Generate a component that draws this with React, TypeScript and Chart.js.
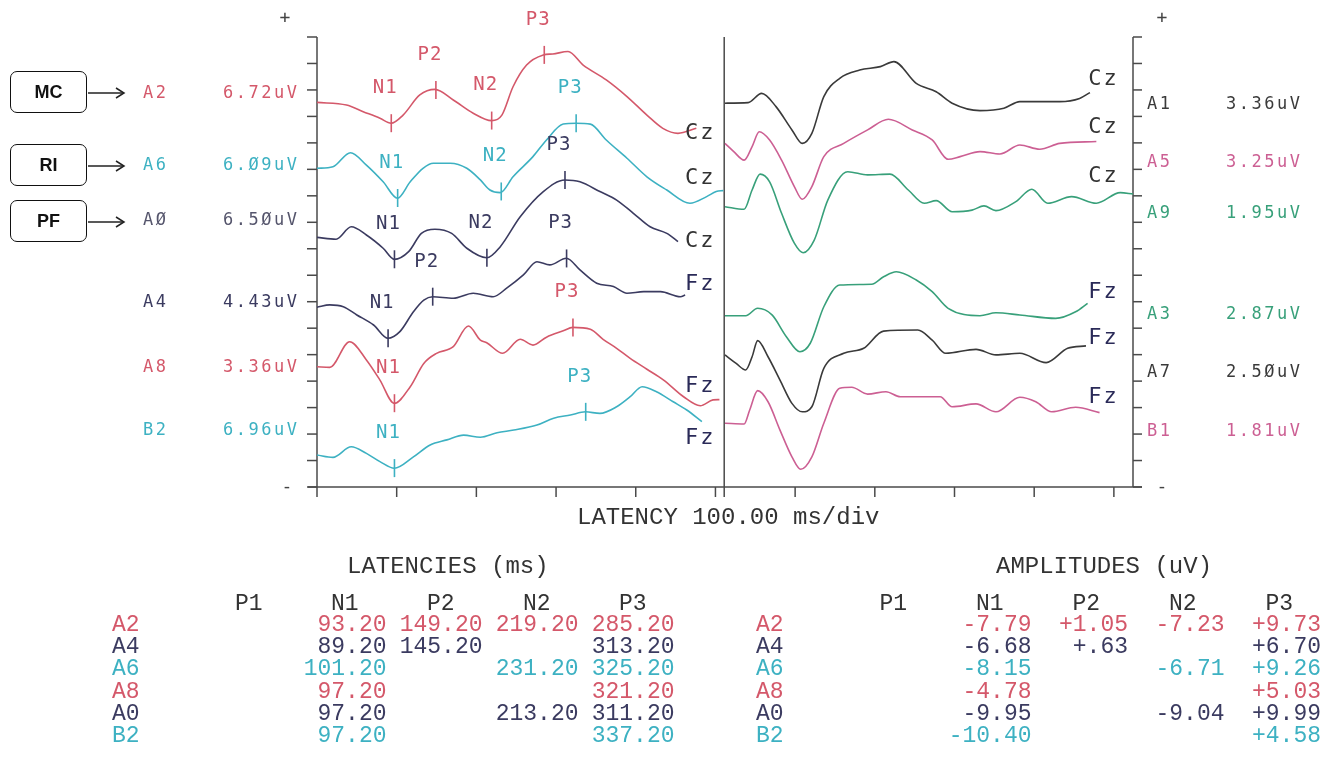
import React, { useEffect, useRef } from "react";
import { Chart, registerables } from "chart.js";

Chart.register(...registerables);

const W = 1327;
const H = 765;

// ---- axes (latency in ms, amplitude in grid divisions) ----
const X_MAX_MS = 1024;
const Y_DIVISIONS = 17;
const X_TICK_STEP_MS = 100;
const PANEL_DIVIDER_MS = 511;

// ---- left panel traces [ms, divisions] ----
const traceA2 = [[0,14.53],[37,14.43],[58,14.18],[79,13.93],[93,13.74],[108,14.05],[129,14.81],[148,15.02],[171,14.62],[196,14.12],[219,13.84],[232,14.05],[246,15.12],[263,15.94],[284,16.32],[296,16.36],[315,16.45],[334,15.94],[363,15.38],[389,14.75],[414,14.05],[434,13.55],[453,13.36],[476,13.55]];
const traceA6 = [[0,12.04],[20,12.10],[42,12.63],[62,12.16],[83,11.53],[101,10.91],[117,11.53],[133,12.04],[146,12.23],[167,12.23],[188,12.04],[205,11.60],[217,11.22],[230,11.12],[246,11.72],[271,12.48],[288,13.11],[309,13.71],[325,13.74],[343,13.71],[363,13.11],[389,12.42],[414,11.72],[439,11.22],[468,10.72],[489,10.97],[501,11.16],[510,11.2]];
const traceA0 = [[0,9.43],[24,9.36],[43,9.83],[62,9.52],[83,9.02],[97,8.60],[115,8.89],[131,9.58],[148,9.74],[169,9.58],[188,9.02],[213,8.66],[230,9.08],[255,10.21],[284,11.16],[311,11.60],[330,11.53],[355,11.16],[376,10.84],[397,10.34],[418,9.83],[439,9.58],[453,9.27]];
const traceA4 = [[0,6.79],[16,6.88],[33,6.81],[50,6.50],[71,6.12],[89,5.62],[104,5.87],[121,6.62],[134,7.06],[145,7.19],[171,7.13],[196,7.32],[221,7.19],[238,7.51],[259,8.01],[276,8.51],[292,8.39],[313,8.64],[330,8.20],[351,7.70],[372,7.57],[389,7.32],[410,7.38],[431,7.38],[456,7.19],[462,7.25]];
const traceA8 = [[0,4.54],[16,4.52],[41,5.49],[62,4.80],[79,4.04],[97,3.16],[117,3.79],[134,4.67],[150,5.05],[171,5.30],[190,6.08],[205,5.55],[213,5.45],[233,5.05],[255,5.58],[271,5.36],[288,5.66],[309,5.90],[321,6.03],[343,5.96],[359,5.58],[376,5.24],[393,4.86],[414,4.45],[435,4.04],[460,3.41],[481,3.07],[497,3.29],[505,3.3]];
const traceB2 = [[0,1.21],[20,1.12],[43,1.52],[62,1.27],[79,0.96],[97,0.71],[121,1.14],[142,1.59],[163,1.78],[184,1.96],[205,1.88],[226,2.05],[247,2.15],[276,2.34],[297,2.60],[318,2.72],[337,2.84],[355,2.78],[376,3.03],[393,3.41],[408,3.79],[426,3.60],[447,3.22],[464,2.91],[483,2.47]];

// ---- right panel traces [ms, divisions] ----
const traceA1 = [[512,14.50],[541,14.52],[558,14.87],[576,14.37],[596,13.49],[609,12.98],[621,13.36],[636,14.75],[656,15.44],[681,15.75],[707,15.88],[724,16.07],[752,15.25],[777,14.93],[797,14.50],[832,14.22],[862,14.31],[882,14.56],[932,14.56],[957,14.68],[970,14.90]];
const traceA5 = [[512,12.98],[523,12.67],[536,12.35],[546,12.86],[555,13.42],[568,13.11],[583,12.35],[599,11.35],[609,10.87],[621,11.35],[636,12.48],[661,12.98],[691,13.49],[717,13.89],[747,13.49],[772,13.11],[792,12.38],[807,12.48],[832,12.67],[857,12.58],[882,12.92],[907,12.76],[932,12.98],[978,13.05]];
const traceA9 = [[512,10.59],[536,10.49],[546,11.22],[556,11.82],[568,11.53],[583,10.34],[599,9.21],[610,8.85],[624,9.33],[641,10.84],[666,11.91],[691,11.79],[719,11.82],[742,11.22],[762,10.72],[777,10.82],[797,10.40],[822,10.46],[837,10.62],[852,10.44],[877,10.78],[897,11.25],[917,10.72],[947,10.97],[978,10.72],[1008,11.12],[1024,11.07]];
const traceA3 = [[512,6.47],[538,6.47],[553,6.75],[571,6.50],[589,5.68],[606,5.11],[619,5.43],[636,6.81],[656,7.63],[696,7.66],[711,7.94],[727,8.13],[752,7.82],[772,7.38],[792,6.75],[832,6.47],[852,6.58],[882,6.50],[927,6.37],[952,6.62],[967,6.94]];
const traceA7 = [[512,4.99],[526,4.67],[538,4.42],[546,4.92],[553,5.53],[566,4.92],[581,4.04],[596,3.16],[609,2.84],[621,3.03],[636,4.48],[661,5.05],[686,5.24],[711,5.89],[754,5.93],[772,5.55],[789,5.05],[827,5.20],[852,4.99],[882,5.05],[915,4.70],[942,5.24],[965,5.33]];
const traceB1 = [[512,2.41],[536,2.38],[543,2.91],[553,3.64],[566,3.22],[581,2.15],[596,1.14],[607,0.67],[621,1.14],[636,2.41],[656,3.73],[671,3.77],[691,3.51],[714,3.60],[732,3.41],[782,3.41],[797,3.03],[827,3.14],[852,2.84],[882,3.39],[902,3.22],[922,2.84],[952,3.01],[982,2.81]];

// ---- channel labels ----
const leftNames = ["A2", "A6", "AØ", "A4", "A8", "B2"];
const leftCalibs = ["6.72uV", "6.Ø9uV", "6.5ØuV", "4.43uV", "3.36uV", "6.96uV"];
const leftLabelLevels = [14.86, 12.13, 10.06, 6.97, 4.5, 2.12];
const leftSites = ["Cz", "Cz", "Cz", "Fz", "Fz", "Fz"];
const leftSiteLevels = [13.38, 11.67, 9.29, 7.67, 3.82, 1.85];
const rightNames = ["A1", "A5", "A9", "A3", "A7", "B1"];
const rightCalibs = ["3.36uV", "3.25uV", "1.95uV", "2.87uV", "2.5ØuV", "1.81uV"];
const rightLabelLevels = [14.43, 12.24, 10.34, 6.5, 4.33, 2.1];
const rightSites = ["Cz", "Cz", "Cz", "Fz", "Fz", "Fz"];
const rightSiteLevels = [15.41, 13.6, 11.75, 7.37, 5.63, 3.4];
const SITE_MS_LEFT = 481;
const SITE_MS_RIGHT = 987;

// ---- peak tables ----
const tableRows = ["A2", "A4", "A6", "A8", "A0", "B2"];
const components = ["P1", "N1", "P2", "N2", "P3"];
const latP1 = [null, null, null, null, null, null];
const latN1 = [93.2, 89.2, 101.2, 97.2, 97.2, 97.2];
const latP2 = [149.2, 145.2, null, null, null, null];
const latN2 = [219.2, null, 231.2, null, 213.2, null];
const latP3 = [285.2, 313.2, 325.2, 321.2, 311.2, 337.2];
const ampP1 = [null, null, null, null, null, null];
const ampN1 = [-7.79, -6.68, -8.15, -4.78, -9.95, -10.40];
const ampP2 = [1.05, 0.63, null, null, null, null];
const ampN2 = [-7.23, null, -6.71, null, -9.04, null];
const ampP3 = [9.73, 6.70, 9.26, 5.03, 9.99, 4.58];

// ---- colours ----
const RED = "#d4586a";
const TEAL = "#3db1c2";
const NAVY = "#3b3b60";
const GREYNAVY = "#55556c";
const DARK = "#3a3a3a";
const PINK = "#cc5f93";
const GREEN = "#38a07a";
const AXIS = "#4a4a4a";
const TEXT = "#333333";
const FZ = "#2a2a58";

const leftTraces = [traceA2, traceA6, traceA0, traceA4, traceA8, traceB2];
const leftColors = [RED, TEAL, NAVY, NAVY, RED, TEAL];
const leftLabelColors = [RED, TEAL, GREYNAVY, NAVY, RED, TEAL];
const rightTraces = [traceA1, traceA5, traceA9, traceA3, traceA7, traceB1];
const rightColors = [DARK, PINK, GREEN, GREEN, DARK, PINK];
const tableTraces = [traceA2, traceA4, traceA6, traceA8, traceA0, traceB2];
const tableColors = [RED, NAVY, TEAL, RED, NAVY, TEAL];

const latCols = [latP1, latN1, latP2, latN2, latP3];
const ampCols = [ampP1, ampN1, ampP2, ampN2, ampP3];

function valueAt(trace: number[][], t: number) {
  for (let i = 0; i < trace.length - 1; i++) {
    const [t0, v0] = trace[i];
    const [t1, v1] = trace[i + 1];
    if (t >= t0 && t <= t1) return v0 + ((v1 - v0) * (t - t0)) / (t1 - t0);
  }
  return trace[trace.length - 1][1];
}

const PLOT_FONT = '"DejaVu Sans Mono", monospace';
const TABLE_FONT = '"Liberation Mono", "Courier New", monospace';

const eegPlugin = {
  id: "eegDecor",
  beforeDatasetsDraw(chart: any) {
    const { ctx, chartArea: ca, scales } = chart;
    const xs = scales.x;
    const ys = scales.y;
    const yTop = ys.getPixelForValue(Y_DIVISIONS);
    const yBot = ys.getPixelForValue(0);
    const xL = ca.left;
    const xR = ca.right;
    ctx.save();
    ctx.strokeStyle = AXIS;
    ctx.lineWidth = 1.5;
    const line = (x1: number, y1: number, x2: number, y2: number) => {
      ctx.beginPath();
      ctx.moveTo(x1, y1);
      ctx.lineTo(x2, y2);
      ctx.stroke();
    };
    line(xL, yTop, xL, yBot + 10);
    line(xR, yTop, xR, yBot);
    for (let i = 0; i <= Y_DIVISIONS; i++) {
      const py = ys.getPixelForValue(i);
      line(xL - 10, py, xL, py);
      line(xR, py, xR + 9, py);
    }
    line(xL - 9, yBot, xR + 9, yBot);
    for (let t = X_TICK_STEP_MS; t <= X_MAX_MS; t += X_TICK_STEP_MS) {
      const px = xs.getPixelForValue(t);
      line(px, yBot, px, yBot + 10);
    }
    const xd = xs.getPixelForValue(PANEL_DIVIDER_MS);
    line(xd, yTop, xd, yBot + 10);
    ctx.restore();
  },
  afterDatasetsDraw(chart: any) {
    const { ctx, chartArea: ca, scales } = chart;
    const xs = scales.x;
    const ys = scales.y;
    const yTop = ys.getPixelForValue(Y_DIVISIONS);
    const yBot = ys.getPixelForValue(0);
    ctx.save();
    ctx.textBaseline = "middle";

    // channel names and calibrations
    ctx.font = `17px ${PLOT_FONT}`;
    (ctx as any).letterSpacing = "2.5px";
    leftNames.forEach((n, i) => {
      const py = ys.getPixelForValue(leftLabelLevels[i]);
      ctx.fillStyle = leftLabelColors[i];
      ctx.textAlign = "left";
      ctx.fillText(n, ca.left - 174, py);
      ctx.textAlign = "right";
      ctx.fillText(leftCalibs[i], ca.left - 17.5, py);
    });
    rightNames.forEach((n, i) => {
      const py = ys.getPixelForValue(rightLabelLevels[i]);
      ctx.fillStyle = rightColors[i];
      ctx.textAlign = "left";
      ctx.fillText(n, ca.right + 14, py);
      ctx.textAlign = "right";
      ctx.fillText(rightCalibs[i], ca.right + 169.5, py);
    });

    // electrode sites
    ctx.font = `22px ${PLOT_FONT}`;
    (ctx as any).letterSpacing = "2px";
    ctx.textAlign = "center";
    leftSites.forEach((s, i) => {
      ctx.fillStyle = s === "Fz" ? FZ : TEXT;
      ctx.fillText(s, xs.getPixelForValue(SITE_MS_LEFT), ys.getPixelForValue(leftSiteLevels[i]));
    });
    rightSites.forEach((s, i) => {
      ctx.fillStyle = s === "Fz" ? FZ : TEXT;
      ctx.fillText(s, xs.getPixelForValue(SITE_MS_RIGHT), ys.getPixelForValue(rightSiteLevels[i]));
    });

    // peak labels above markers
    ctx.font = `19px ${PLOT_FONT}`;
    (ctx as any).letterSpacing = "1px";
    chart.data.datasets.forEach((ds: any, di: number) => {
      if (!ds.peakNames) return;
      const meta = chart.getDatasetMeta(di);
      meta.data.forEach((pt: any, j: number) => {
        ctx.fillStyle = ds.pointBorderColor;
        ctx.fillText(ds.peakNames[j], pt.x - 6, pt.y - 35);
      });
    });

    // polarity signs
    ctx.font = `18px ${PLOT_FONT}`;
    (ctx as any).letterSpacing = "0px";
    ctx.fillStyle = "#444";
    ctx.fillText("+", ca.left - 32, yTop - 19);
    ctx.fillText("-", ca.left - 30, yBot);
    ctx.fillText("+", ca.right + 29, yTop - 19);
    ctx.fillText("-", ca.right + 29, yBot);

    // latency axis title
    ctx.font = `24px ${TABLE_FONT}`;
    ctx.fillStyle = TEXT;
    ctx.textAlign = "left";
    ctx.textBaseline = "alphabetic";
    ctx.fillText("LATENCY 100.00 ms/div", 577, yBot + 37);
    ctx.restore();
  },
};

function buildDatasets() {
  const traceSets = [...leftTraces, ...rightTraces].map((tr, i) => ({
    data: tr.map(([x, y]) => ({ x, y })),
    borderColor: [...leftColors, ...rightColors][i],
    borderWidth: 1.6,
    pointRadius: 0,
    cubicInterpolationMode: "monotone",
    fill: false,
    clip: false,
  }));
  const markerSets = tableRows.map((row, r) => {
    const pts: any[] = [];
    const names: string[] = [];
    latCols.forEach((col, c) => {
      const t = col[r];
      if (t == null) return;
      pts.push({ x: t, y: valueAt(tableTraces[r], t) });
      names.push(components[c]);
    });
    return {
      data: pts,
      peakNames: names,
      showLine: false,
      pointStyle: "line",
      rotation: 90,
      pointRadius: 9,
      pointHoverRadius: 9,
      pointBorderWidth: 1.6,
      pointBorderColor: tableColors[r],
      borderColor: tableColors[r],
      clip: false,
    };
  });
  return [...traceSets, ...markerSets];
}

const fmtLat = (v: number | null) => (v == null ? "" : v.toFixed(2));
const fmtAmp = (v: number | null) => {
  if (v == null) return "";
  const a = Math.abs(v).toFixed(2);
  return (v < 0 ? "-" : "+") + (a.startsWith("0") ? a.slice(1) : a);
};

const ROW_Y = [624, 646.3, 668.5, 690.7, 713, 735.2];
const HEADER_Y = 603.5;
const TITLE_Y = 566;

function Txt(props: { x: number; cy: number; text: string; color: string; size?: number; right?: boolean }) {
  const size = props.size ?? 23;
  const style: any = {
    position: "absolute",
    top: props.cy - size * 0.44,
    whiteSpace: "pre",
    font: `${size}px ${TABLE_FONT}`,
    lineHeight: `${size}px`,
    color: props.color,
  };
  if (props.right) style.right = W - props.x;
  else style.left = props.x;
  return <div style={style}>{props.text}</div>;
}

function PeakTable(props: { title: string; titleX: number; labelX: number; colEnds: number[]; cols: (number | null)[][]; fmt: (v: number | null) => string }) {
  const items: any[] = [];
  items.push(<Txt key="t" x={props.titleX} cy={TITLE_Y} text={props.title} color={TEXT} size={24} />);
  components.forEach((c, i) => {
    items.push(<Txt key={"h" + i} x={props.colEnds[i] - 26.5} cy={HEADER_Y} text={c} color={TEXT} right />);
  });
  tableRows.forEach((r, ri) => {
    items.push(<Txt key={"r" + ri} x={props.labelX} cy={ROW_Y[ri]} text={r} color={tableColors[ri]} />);
    props.cols.forEach((col, ci) => {
      const s = props.fmt(col[ri]);
      if (s) items.push(<Txt key={"v" + ri + "_" + ci} x={props.colEnds[ci] + 1.5} cy={ROW_Y[ri]} text={s} color={tableColors[ri]} right />);
    });
  });
  return <>{items}</>;
}

const groupBoxes = [
  { label: "MC", top: 71 },
  { label: "RI", top: 144 },
  { label: "PF", top: 200 },
];

export default function App() {
  const ref = useRef<HTMLCanvasElement | null>(null);
  useEffect(() => {
    if (!ref.current) return;
    const chart = new Chart(ref.current, {
      type: "line",
      data: { datasets: buildDatasets() as any },
      options: {
        responsive: false,
        animation: false,
        devicePixelRatio: 1,
        layout: { padding: { left: 317, right: W - 1133, top: 37, bottom: H - 487 } },
        scales: {
          x: { type: "linear", min: 0, max: X_MAX_MS, display: false },
          y: { type: "linear", min: 0, max: Y_DIVISIONS, display: false },
        },
        plugins: { legend: { display: false }, tooltip: { enabled: false } },
        events: [],
      } as any,
      plugins: [eegPlugin as any],
    });
    return () => chart.destroy();
  }, []);

  return (
    <div style={{ position: "absolute", left: 0, top: 0, width: W, height: H, background: "#fff", overflow: "hidden" }}>
      <canvas ref={ref} width={W} height={H} style={{ position: "absolute", left: 0, top: 0, width: W, height: H }} />
      {groupBoxes.map((b) => (
        <div
          key={b.label}
          style={{
            position: "absolute",
            left: 10,
            top: b.top,
            width: 75,
            height: 40,
            border: "1.5px solid #111",
            borderRadius: 7,
            font: 'bold 18px "Liberation Sans", Arial, sans-serif',
            color: "#111",
            display: "flex",
            alignItems: "center",
            justifyContent: "center",
          }}
        >
          {b.label}
        </div>
      ))}
      <svg width={W} height={260} style={{ position: "absolute", left: 0, top: 0 }}>
        {groupBoxes.map((b) => {
          const y = b.top + 22;
          return (
            <g key={b.label} stroke="#222" strokeWidth={1.5} fill="none">
              <line x1={88} y1={y} x2={124} y2={y} />
              <polyline points={`116,${y - 5} 124,${y} 116,${y + 5}`} />
            </g>
          );
        })}
      </svg>
      <PeakTable title="LATENCIES (ms)" titleX={347} labelX={112} colEnds={[289, 385, 481, 577, 673]} cols={latCols} fmt={fmtLat} />
      <PeakTable title="AMPLITUDES (uV)" titleX={996} labelX={756} colEnds={[933.5, 1030, 1126.5, 1223, 1319.5]} cols={ampCols} fmt={fmtAmp} />
    </div>
  );
}
